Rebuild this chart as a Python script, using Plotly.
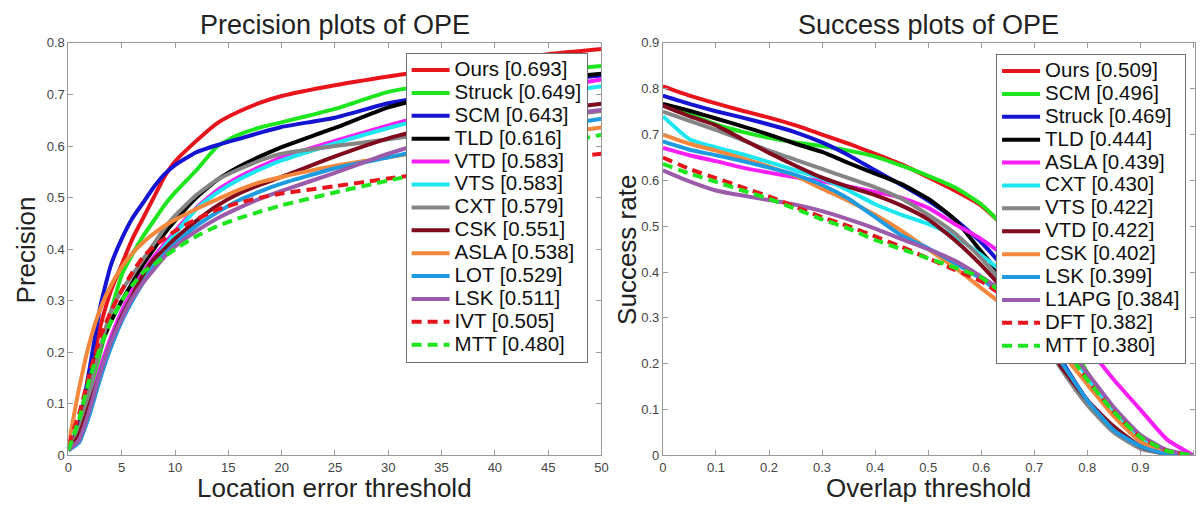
import plotly.graph_objects as go

# ---------------- data: precision plot ----------------
prec_x = [0, 1, 2, 3, 4, 5, 6, 7, 8, 9, 10, 12, 14, 16, 18, 20, 25, 30, 35, 40, 45, 50]
prec_names = ["Ours [0.693]", "Struck [0.649]", "SCM [0.643]", "TLD [0.616]", "VTD [0.583]",
              "VTS [0.583]", "CXT [0.579]", "CSK [0.551]", "ASLA [0.538]", "LOT [0.529]",
              "LSK [0.511]", "IVT [0.505]", "MTT [0.480]"]
prec_ours   = [0.01,0.05,0.15,0.25,0.32,0.37,0.42,0.46,0.50,0.54,0.57,0.61,0.645,0.667,0.684,0.697,0.718,0.735,0.75,0.765,0.778,0.788]
prec_struck = [0.01,0.05,0.12,0.20,0.28,0.35,0.39,0.425,0.455,0.485,0.51,0.553,0.60,0.622,0.636,0.646,0.672,0.705,0.722,0.735,0.746,0.755]
prec_scm    = [0.01,0.06,0.17,0.29,0.37,0.42,0.46,0.49,0.52,0.545,0.563,0.588,0.602,0.614,0.626,0.637,0.655,0.683,0.70,0.715,0.727,0.737]
prec_tld    = [0.01,0.05,0.14,0.21,0.26,0.30,0.335,0.37,0.40,0.43,0.455,0.50,0.535,0.56,0.58,0.598,0.635,0.675,0.70,0.716,0.73,0.74]
prec_vtd    = [0.01,0.04,0.10,0.17,0.23,0.28,0.32,0.355,0.385,0.41,0.435,0.48,0.515,0.54,0.56,0.578,0.61,0.64,0.668,0.692,0.712,0.729]
prec_vts    = [0.01,0.04,0.10,0.16,0.22,0.27,0.31,0.345,0.375,0.405,0.43,0.478,0.51,0.535,0.555,0.572,0.605,0.635,0.66,0.68,0.70,0.716]
prec_cxt    = [0.01,0.05,0.13,0.21,0.28,0.32,0.35,0.38,0.41,0.44,0.465,0.505,0.535,0.555,0.572,0.585,0.60,0.613,0.628,0.643,0.656,0.668]
prec_csk    = [0.01,0.04,0.10,0.16,0.22,0.27,0.31,0.35,0.38,0.40,0.42,0.455,0.485,0.508,0.525,0.54,0.58,0.615,0.64,0.656,0.67,0.682]
prec_asla   = [0.02,0.13,0.22,0.285,0.33,0.365,0.392,0.413,0.43,0.445,0.457,0.478,0.497,0.515,0.53,0.54,0.562,0.578,0.595,0.61,0.623,0.636]
prec_lot    = [0.01,0.025,0.08,0.15,0.21,0.26,0.30,0.335,0.365,0.39,0.41,0.445,0.472,0.495,0.512,0.527,0.557,0.578,0.60,0.62,0.637,0.653]
prec_lsk    = [0.01,0.03,0.09,0.16,0.22,0.265,0.305,0.335,0.36,0.385,0.405,0.435,0.46,0.48,0.498,0.513,0.548,0.585,0.615,0.64,0.658,0.67]
prec_ivt    = [0.02,0.08,0.16,0.23,0.28,0.32,0.355,0.385,0.405,0.42,0.435,0.458,0.477,0.49,0.50,0.508,0.522,0.537,0.55,0.562,0.573,0.585]
prec_mtt    = [0.01,0.07,0.15,0.21,0.26,0.30,0.33,0.355,0.37,0.385,0.40,0.425,0.445,0.46,0.473,0.485,0.51,0.533,0.555,0.578,0.60,0.622]
prec_values = [prec_ours, prec_struck, prec_scm, prec_tld, prec_vtd, prec_vts, prec_cxt,
               prec_csk, prec_asla, prec_lot, prec_lsk, prec_ivt, prec_mtt]

# ---------------- data: success plot ----------------
succ_x = [0, 0.05, 0.1, 0.15, 0.2, 0.25, 0.3, 0.35, 0.4, 0.45, 0.5, 0.55, 0.6, 0.65, 0.7, 0.75,
          0.8, 0.85, 0.9, 0.95, 1.0]
succ_names = ["Ours [0.509]", "SCM [0.496]", "Struck [0.469]", "TLD [0.444]", "ASLA [0.439]",
              "CXT [0.430]", "VTS [0.422]", "VTD [0.422]", "CSK [0.402]", "LSK [0.399]",
              "L1APG [0.384]", "DFT [0.382]", "MTT [0.380]"]
succ_ours   = [0.805,0.785,0.768,0.752,0.737,0.72,0.70,0.68,0.658,0.635,0.607,0.578,0.545,0.49,0.40,0.29,0.18,0.10,0.035,0.007,0.0]
succ_scm    = [0.765,0.745,0.722,0.706,0.693,0.683,0.675,0.665,0.652,0.632,0.61,0.585,0.548,0.49,0.40,0.29,0.18,0.10,0.035,0.007,0.0]
succ_struck = [0.785,0.767,0.751,0.737,0.722,0.705,0.683,0.655,0.622,0.59,0.556,0.515,0.465,0.40,0.31,0.21,0.12,0.055,0.02,0.004,0.0]
succ_tld    = [0.767,0.752,0.735,0.718,0.70,0.68,0.662,0.638,0.615,0.592,0.56,0.515,0.445,0.375,0.29,0.20,0.12,0.055,0.02,0.004,0.0]
succ_asla   = [0.671,0.655,0.642,0.628,0.617,0.607,0.598,0.587,0.575,0.562,0.54,0.505,0.472,0.43,0.37,0.30,0.237,0.165,0.10,0.035,0.0]
succ_cxt    = [0.74,0.69,0.672,0.657,0.64,0.622,0.604,0.578,0.548,0.525,0.505,0.478,0.437,0.39,0.33,0.26,0.17,0.09,0.035,0.008,0.0]
succ_vts    = [0.75,0.73,0.71,0.688,0.665,0.645,0.625,0.605,0.585,0.56,0.525,0.485,0.43,0.36,0.28,0.19,0.11,0.05,0.015,0.003,0.0]
succ_vtd    = [0.763,0.74,0.72,0.69,0.66,0.632,0.606,0.586,0.568,0.545,0.515,0.47,0.415,0.35,0.275,0.195,0.12,0.063,0.02,0.003,0.0]
succ_csk    = [0.70,0.68,0.665,0.648,0.63,0.61,0.582,0.555,0.525,0.49,0.45,0.41,0.365,0.32,0.27,0.225,0.155,0.085,0.03,0.006,0.0]
succ_lsk    = [0.685,0.667,0.655,0.642,0.628,0.612,0.59,0.56,0.52,0.48,0.452,0.42,0.385,0.34,0.28,0.205,0.12,0.055,0.02,0.003,0.0]
succ_l1apg  = [0.622,0.598,0.578,0.567,0.557,0.547,0.533,0.515,0.495,0.472,0.45,0.425,0.39,0.35,0.30,0.25,0.18,0.105,0.045,0.012,0.0]
succ_dft    = [0.65,0.625,0.605,0.585,0.565,0.542,0.52,0.50,0.478,0.455,0.43,0.405,0.38,0.34,0.29,0.245,0.165,0.095,0.04,0.01,0.0]
succ_mtt    = [0.636,0.615,0.597,0.578,0.56,0.538,0.515,0.495,0.47,0.45,0.43,0.41,0.388,0.345,0.295,0.245,0.165,0.095,0.04,0.01,0.0]
succ_values = [succ_ours, succ_scm, succ_struck, succ_tld, succ_asla, succ_cxt, succ_vts,
               succ_vtd, succ_csk, succ_lsk, succ_l1apg, succ_dft, succ_mtt]

prec_xticks = [0, 5, 10, 15, 20, 25, 30, 35, 40, 45, 50]
prec_yticks = [0, 0.1, 0.2, 0.3, 0.4, 0.5, 0.6, 0.7, 0.8]
succ_xticks = [0, 0.1, 0.2, 0.3, 0.4, 0.5, 0.6, 0.7, 0.8, 0.9, 1.0]
succ_xtext = ["0", "0.1", "0.2", "0.3", "0.4", "0.5", "0.6", "0.7", "0.8", "0.9", ""]
succ_yticks = [0, 0.1, 0.2, 0.3, 0.4, 0.5, 0.6, 0.7, 0.8, 0.9]

# ---------------- styles ----------------
RED, GREEN, BLUE, BLACK = "#e8141c", "#1ee61e", "#1414d2", "#000000"
MAGENTA, CYAN, GRAY, DARKRED = "#f81ef8", "#1ee6f0", "#858585", "#800a1e"
ORANGE, SKY, PURPLE = "#f5873c", "#1e9be0", "#9b5aaa"
prec_colors = [RED, GREEN, BLUE, BLACK, MAGENTA, CYAN, GRAY, DARKRED, ORANGE, SKY, PURPLE, RED, GREEN]
succ_colors = [RED, GREEN, BLUE, BLACK, MAGENTA, CYAN, GRAY, DARKRED, ORANGE, SKY, PURPLE, RED, GREEN]
dashes = ["solid"] * 11 + ["10px,6px", "10px,6px"]

FONT = "Liberation Sans, Arial, Helvetica, sans-serif"
LEG_TXT = 20.5
LEG_ROW = 15.3

fig = go.Figure()
for name, ys, col, dsh in zip(prec_names, prec_values, prec_colors, dashes):
    fig.add_trace(go.Scatter(
        x=prec_x, y=ys, mode="lines", xaxis="x", yaxis="y", legend="legend",
        name=f'<span style="font-size:{LEG_TXT}px">{name}</span>',
        line=dict(color=col, width=4, dash=dsh, shape="spline", smoothing=0.5)))
for name, ys, col, dsh in zip(succ_names, succ_values, succ_colors, dashes):
    fig.add_trace(go.Scatter(
        x=succ_x, y=ys, mode="lines", xaxis="x2", yaxis="y2", legend="legend2",
        name=f'<span style="font-size:{LEG_TXT}px">{name}</span>',
        line=dict(color=col, width=4, dash=dsh, shape="spline", smoothing=0.5)))

W, H = 1202, 510
ydom = [48 / H, 473 / H]
axis_common = dict(showgrid=False, zeroline=False, showline=True, linecolor="#9a9a9a",
                   linewidth=1, mirror="ticks", ticks="inside", ticklen=5,
                   tickcolor="#9a9a9a", tickfont=dict(size=13, color="#444444", family=FONT))

fig.update_layout(
    width=W, height=H, margin=dict(l=0, r=0, t=0, b=0),
    paper_bgcolor="white", plot_bgcolor="white",
    font=dict(family=FONT, color="#222222"),
    xaxis=dict(domain=[65 / W, 603 / W], range=[0, 50], tickvals=prec_xticks,
               anchor="y", **axis_common),
    yaxis=dict(domain=ydom, range=[0, 0.8], tickvals=prec_yticks,
               anchor="x", **axis_common),
    xaxis2=dict(domain=[665 / W, 1.0], range=[0, 1.003], tickvals=succ_xticks,
                ticktext=succ_xtext, anchor="y2", **axis_common),
    yaxis2=dict(domain=ydom, range=[0, 0.9], tickvals=succ_yticks,
                anchor="x2", **axis_common),
    legend=dict(x=589 / W, xanchor="right", y=1 - 47 / H, yanchor="top",
                bgcolor="white", bordercolor="#707070", borderwidth=1,
                font=dict(size=LEG_ROW, color="#111111", family=FONT),
                itemwidth=38, tracegroupgap=0),
    legend2=dict(x=1193 / W, xanchor="right", y=1 - 48 / H, yanchor="top",
                 bgcolor="white", bordercolor="#707070", borderwidth=1,
                 font=dict(size=LEG_ROW, color="#111111", family=FONT),
                 itemwidth=38, tracegroupgap=0),
    showlegend=True,
)

annos = [
    dict(text="Precision plots of OPE", x=334 / W, y=1 - 19 / H, size=27, angle=0),
    dict(text="Success plots of OPE", x=933 / W, y=1 - 19 / H, size=27, angle=0),
    dict(text="Location error threshold", x=334 / W, y=1 - 496 / H, size=26, angle=0),
    dict(text="Overlap threshold", x=933 / W, y=1 - 496 / H, size=26, angle=0),
    dict(text="Precision", x=22 / W, y=1 - 250 / H, size=26, angle=-90),
    dict(text="Success rate", x=628 / W, y=1 - 250 / H, size=26, angle=-90),
]
for a in annos:
    fig.add_annotation(text=a["text"], x=a["x"], y=a["y"], xref="paper", yref="paper",
                       xanchor="center", yanchor="middle", showarrow=False, textangle=a["angle"],
                       font=dict(size=a["size"], color="#222222", family=FONT))

fig.write_html("out.html", config={"displayModeBar": False},
               post_script="document.body.style.margin='0';")
